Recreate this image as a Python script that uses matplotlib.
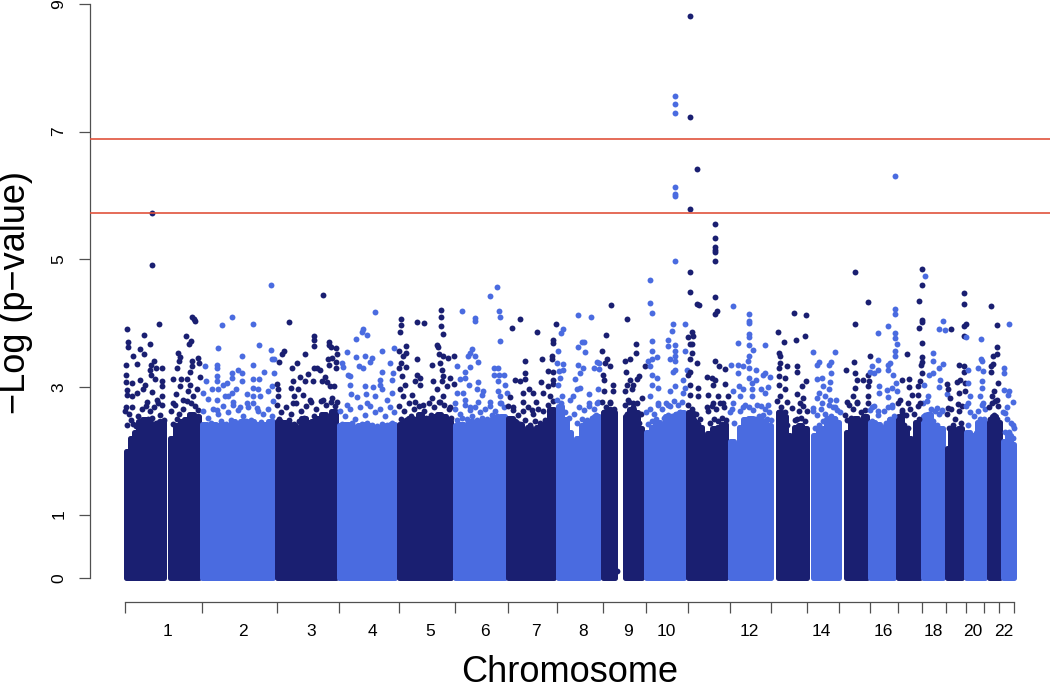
import matplotlib
matplotlib.use('Agg')
import matplotlib.pyplot as plt

plt.rcParams['font.family'] = ['Liberation Sans', 'DejaVu Sans']

DARK = '#1a1f71'
BLUE = '#4a6be0'
RED = '#e0533c'
AXIS = '#505050'

# cumulative genome position is kept in plot units
boundaries = [125, 202, 277, 339, 399, 455, 508, 557, 603, 646, 688, 730, 771,
              807, 839, 870, 898, 922, 946, 966, 984, 999, 1014]
label_pos = [167, 243, 311, 372, 430, 485, 536, 583, 628, 666, 749, 821, 883, 933, 973, 1004]
label_txt = ['1', '2', '3', '4', '5', '6', '7', '8', '9', '10', '12', '14', '16', '18', '20', '22']
y_ticks = [0, 1, 3, 5, 7, 9]
thresholds = [6.89, 5.725]

# solid part of each chromosome: start, end, colour index, top of the dense cloud
arm_start = [123, 167.7, 199.7, 274, 336.7, 396, 452, 505.7, 555, 600, 622.3, 643.3, 685.3,
             727.3, 775, 810.7, 843.3, 867.7, 895.3, 920.7, 944, 963.3, 986, 1000.7]
arm_end = [166, 199.7, 274, 336.7, 396, 452, 505.7, 555, 600, 617.3, 643.3, 685.3, 727.3,
           773.3, 809, 841.7, 867.7, 895.3, 920.7, 944, 963.3, 986, 1000.7, 1016.7]
arm_col = [0, 0, 1, 0, 1, 0, 1, 0, 1, 0, 0, 1, 0, 1, 0, 1, 0, 1, 0, 1, 0, 1, 0, 1]
arm_tops = [
    [2.0, 2.2, 2.3, 2.47, 2.5, 2.45, 2.4, 2.42, 2.47],
    [2.2, 2.4, 2.47, 2.5, 2.57, 2.55],
    [2.42, 2.35, 2.42, 2.4, 2.42, 2.35, 2.47, 2.4, 2.47, 2.4, 2.47, 2.42, 2.35, 2.42, 2.47],
    [2.47, 2.45, 2.42, 2.4, 2.35, 2.52, 2.45, 2.47, 2.52, 2.57, 2.55, 2.62],
    [2.4, 2.42, 2.35, 2.37, 2.4, 2.42, 2.4, 2.37, 2.35, 2.37, 2.4, 2.42],
    [2.42, 2.45, 2.52, 2.45, 2.57, 2.45, 2.52, 2.55, 2.57, 2.55, 2.47],
    [2.4, 2.42, 2.35, 2.47, 2.45, 2.47, 2.45, 2.47, 2.5, 2.52, 2.55],
    [2.52, 2.45, 2.42, 2.3, 2.37, 2.3, 2.37, 2.4, 2.47, 2.65],
    [2.7, 2.5, 2.3, 2.12, 2.2, 2.4, 2.45, 2.47, 2.55],
    [2.6, 2.65, 2.6],
    [2.55, 2.65, 2.6, 2.35],
    [2.3, 2.37, 2.45, 2.42, 2.55, 2.5, 2.57, 2.6],
    [2.6, 2.45, 2.37, 2.02, 2.27, 2.35, 2.37, 2.42],
    [2.15, 2.05, 2.37, 2.5, 2.52, 2.45, 2.5, 2.47, 2.4],
    [2.6, 2.55, 2.25, 2.15, 2.37, 2.4, 2.35],
    [2.25, 2.32, 2.35, 2.5, 2.52, 2.45],
    [2.3, 2.5, 2.52, 2.2, 2.55],
    [2.45, 2.42, 2.2, 2.4, 2.5],
    [2.55, 2.35, 2.2, 2.15, 2.45],
    [2.55, 2.57, 2.4, 2.25, 2.35],
    [2.05, 2.35, 1.95, 2.35],
    [2.3, 2.05, 2.25, 2.45, 2.47],
    [2.45, 2.55, 2.45],
    [2.15, 2.25, 2.1],
]

# separate points above the dense cloud, one x and one y list per chromosome
chr1_x = [151.7, 151.7, 159, 127.3, 144, 128, 128, 150.3, 140, 144, 133, 136.7, 126.3, 154, 150.7, 156, 162.3,
          150.3, 150.7, 155, 126.3, 126, 132.3, 140, 144.7, 162, 162, 142.7, 127.3, 136.7, 152, 127.3, 131.7,
          161.7, 156.7, 126, 131.7, 146.7, 191.7, 194, 195.3, 186, 191.3, 189, 178, 180, 179.3, 197.7, 191.7,
          199.3, 176.7, 191.7, 190, 200, 173, 180.7, 186.7, 180, 190, 176, 188.3, 196.7, 183.3, 193.3, 173.3]
chr1_y = [5.73, 4.91, 3.98, 3.90, 3.82, 3.70, 3.62, 3.67, 3.59, 3.52, 3.49, 3.36, 3.34, 3.40, 3.34, 3.30, 3.30,
          3.27, 3.18, 3.13, 3.18, 3.07, 3.06, 3.11, 3.03, 3.09, 3.01, 2.96, 2.95, 2.91, 2.92, 2.87, 2.85,
          2.85, 2.80, 2.68, 2.69, 2.77, 4.10, 4.06, 4.03, 3.80, 3.72, 3.67, 3.53, 3.47, 3.41, 3.46, 3.41,
          3.38, 3.30, 3.32, 3.24, 3.15, 3.12, 3.12, 3.13, 3.01, 3.03, 2.89, 2.93, 2.96, 2.80, 2.85, 2.75]
chr2_x = [271.3, 232, 222, 252.7, 217.7, 259, 241.7, 271.3, 272, 274.3, 204.7, 217.3, 217.3, 252.7, 238.3, 241.7,
          264.3, 273.7, 232, 231.7, 205.7, 217.3, 216.7, 227.3, 223, 241.7, 253.3, 259, 211.7, 218.3, 236, 231.7,
          253.3, 258.3, 271.7, 268.3, 202.7, 208, 216.7, 225, 228.3, 246.7, 253.3, 273.3, 260, 233.3, 246.7,
          216.7, 240, 256.7]
chr2_y = [4.59, 4.10, 3.97, 3.98, 3.61, 3.66, 3.49, 3.58, 3.44, 3.44, 3.33, 3.34, 3.30, 3.34, 3.27, 3.22,
          3.24, 3.22, 3.22, 3.14, 3.10, 3.17, 3.09, 3.06, 3.03, 3.10, 3.12, 3.13, 2.97, 2.96, 2.97, 2.91,
          2.98, 2.96, 3.02, 2.93, 2.90, 2.81, 2.80, 2.85, 2.86, 2.89, 2.85, 2.78, 2.85, 2.76, 2.74,
          2.64, 2.69, 2.67]
chr3_x = [323.3, 289.3, 314, 314, 314, 328.7, 328.7, 330.7, 336, 305, 337.3, 284, 281.7, 279.3, 297.3, 291.7,
          327.7, 332, 328.7, 336, 336, 314, 317.3, 320, 300, 308.3, 305, 312.7, 321.7, 325, 327.3, 334, 330,
          277.3, 277.7, 278.3, 293.3, 290.7, 298.3, 294, 303.3, 310, 323.3, 331.7, 336.7, 293.3]
chr3_y = [4.44, 4.01, 3.80, 3.74, 3.64, 3.71, 3.66, 3.63, 3.61, 3.51, 3.52, 3.57, 3.52, 3.39, 3.37, 3.30,
          3.43, 3.45, 3.34, 3.39, 3.29, 3.30, 3.30, 3.26, 3.15, 3.20, 3.10, 3.10, 3.10, 3.16, 3.07, 3.01, 3.01,
          3.05, 2.97, 2.85, 3.09, 2.98, 2.96, 2.85, 2.88, 2.80, 2.80, 2.83, 2.77, 2.75]
chr4_x = [375.3, 362.7, 362.3, 367.3, 356, 347.3, 365, 356, 371.7, 381.7, 394, 370, 390, 341.7, 343.3, 359.3,
          363.3, 381.7, 393.3, 348.3, 350, 380, 380, 391.7, 350, 365, 372.7, 350.7, 356.7, 366, 391.7, 375,
          381.7, 346.7, 366.7, 386.7]
chr4_y = [4.17, 3.91, 3.86, 3.82, 3.75, 3.55, 3.49, 3.47, 3.46, 3.56, 3.61, 3.39, 3.38, 3.37, 3.31, 3.33,
          3.29, 3.24, 3.22, 3.19, 3.17, 3.11, 3.03, 3.11, 3.03, 3.01, 3.00, 2.89, 2.84, 2.89, 2.91, 2.85,
          2.96, 2.72, 2.75, 2.80]
chr5_x = [400.7, 401, 399.7, 405.7, 399, 405.7, 402.7, 401, 405.7, 399.3, 401.7, 405, 400, 403.3,
          417.3, 423.7, 441.3, 441.3, 441.3, 442.7, 437.3, 438.3, 417.3, 439.3, 443.3, 448.3, 454, 431.7, 440,
          441.7, 443.3, 450, 417.3, 420, 415, 420, 433.3, 441.7, 447.3, 454.3, 411.7, 436.7, 431.7, 443.3,
          415, 423.3, 440, 450]
chr5_y = [4.07, 3.97, 3.86, 3.64, 3.56, 3.53, 3.49, 3.37, 3.31, 3.30, 3.17, 3.03, 2.96, 2.85,
          4.01, 4.00, 4.20, 4.10, 3.95, 3.83, 3.66, 3.63, 3.43, 3.51, 3.48, 3.45, 3.48, 3.35, 3.38,
          3.27, 3.17, 3.14, 3.19, 3.14, 3.09, 3.03, 3.09, 3.09, 3.02, 3.04, 2.88, 2.96, 2.83, 2.85,
          2.76, 2.71, 2.77, 2.69]
chr6_x = [497, 490.3, 462, 498.7, 475, 475, 500.3, 500.3, 472.3, 470, 468.3, 475, 477.7, 456.7, 470, 465, 494,
          498, 494, 499.3, 504, 460, 465, 477.7, 469.3, 498.3, 505, 476.7, 457.3, 483.3, 463.3, 498.3, 506.7,
          481.7, 500, 465, 478.3, 490, 455, 500.7, 470]
chr6_y = [4.57, 4.43, 4.19, 4.19, 4.08, 4.03, 4.10, 3.72, 3.59, 3.53, 3.48, 3.48, 3.39, 3.32, 3.31, 3.23, 3.29,
          3.29, 3.19, 3.19, 3.18, 3.12, 3.14, 3.07, 3.03, 3.09, 3.03, 2.97, 2.90, 2.93, 2.90, 2.93, 2.91,
          2.88, 2.85, 2.80, 2.76, 2.77, 2.75, 2.75, 2.68]
chr7_x = [519.7, 512, 536.7, 555.7, 553.3, 553.3, 542, 552.3, 552.3, 524.7, 548.3, 552.7, 524.7, 515, 525, 520,
          541, 553.3, 553.3, 547.7, 529.3, 533.3, 543.3, 522.7, 510, 536, 523.3, 550, 513.3, 531.7]
chr7_y = [4.07, 3.93, 3.86, 3.98, 3.74, 3.68, 3.44, 3.48, 3.43, 3.40, 3.25, 3.23, 3.22, 3.11, 3.12, 3.09,
          3.08, 3.11, 3.05, 3.02, 2.97, 2.90, 2.90, 2.90, 2.84, 2.77, 2.77, 2.85, 2.69, 2.64]
chr8_x = [578.3, 590.7, 563, 561.3, 581.7, 584.3, 578.3, 558.3, 585, 557.3, 563.3, 596.7, 599.3, 578.3, 583.3,
          563.3, 559.3, 580, 594.3, 599, 560, 575, 558.3, 580, 576.7, 589.3, 598.3, 573.3, 589.3, 596.7, 561.7, 570]
chr8_y = [4.12, 4.09, 3.91, 3.84, 3.70, 3.70, 3.62, 3.57, 3.55, 3.38, 3.36, 3.39, 3.37, 3.34, 3.29,
          3.27, 3.25, 3.22, 3.29, 3.28, 3.14, 3.13, 3.03, 2.98, 2.96, 2.89, 2.96, 2.85, 2.75, 2.75, 2.85, 2.79]
chr9_x = [611, 626.7, 606.3, 602.3, 636.3, 636.3, 606.7, 605, 610, 625, 630.3, 645.3, 626.3, 603.3, 604, 630,
          636.7, 639.3, 613.3, 626.7, 633.3, 604, 613.3, 625, 631.7, 641.7, 610, 628.3, 633.3, 617.3]
chr9_y = [4.28, 4.06, 3.81, 3.57, 3.67, 3.53, 3.44, 3.37, 3.32, 3.40, 3.43, 3.33, 3.23, 3.19, 3.11, 3.11,
          3.13, 3.17, 3.03, 3.03, 3.03, 2.93, 2.94, 2.94, 2.96, 2.83, 2.77, 2.80, 2.75, 0.12]
chr10_x = [675, 675, 675, 675, 675, 675, 675, 649.7, 650, 652.3, 672.7, 685, 672.3, 667.7, 652, 675, 668.3, 685,
           652, 675, 656.7, 651.7, 675, 670, 675, 648.3, 650, 675, 672.7, 686.7, 651.7, 656.7, 683.3, 651.7,
           658.3, 675, 685, 670, 683.3, 650, 658.3, 668.3]
chr10_y = [7.56, 7.44, 7.29, 6.14, 6.03, 5.99, 4.98, 4.68, 4.31, 4.16, 3.99, 3.99, 3.87, 3.74, 3.72, 3.66, 3.64, 3.57,
           3.57, 3.56, 3.47, 3.44, 3.48, 3.43, 3.40, 3.40, 3.32, 3.27, 3.23, 3.26, 3.19, 3.14, 3.11, 3.03,
           2.98, 3.01, 2.98, 2.93, 2.90, 2.85, 2.75, 2.72]
chr11_x = [689.7, 689.7, 697.3, 689.7, 714.7, 714.7, 714.7, 714.7, 714.7, 714.7, 689.7, 689.7, 714.7, 697.3, 699.3,
           714.7, 717.3, 692.3, 688.3, 693.3, 690, 692.3, 692.3, 690, 697.3, 714.7, 719, 690, 688.3, 706.7,
           711.7, 715, 690, 698.3, 713.3, 708.3, 690, 698.3, 713.3, 718.3, 706.7, 725, 725, 728.3, 723.3]
chr11_y = [8.82, 7.23, 6.41, 5.79, 5.56, 5.33, 5.19, 5.15, 5.12, 4.97, 4.80, 4.49, 4.41, 4.30, 4.29,
           4.14, 4.19, 3.86, 3.78, 3.79, 3.67, 3.67, 3.53, 3.43, 3.37, 3.40, 3.32, 3.24, 3.19, 3.15,
           3.14, 3.11, 3.03, 2.98, 3.03, 2.88, 2.88, 2.85, 2.75, 2.85, 2.69, 3.28, 3.05, 2.85, 2.75]
chr12_x = [732.7, 749, 749, 749, 749, 749, 737.7, 765, 749, 752.7, 749, 747.7, 730.7, 737.7, 742.7, 737.7, 749,
           755.7, 765, 762.7, 770.3, 749, 751.7, 756, 739.3, 743.3, 760.7, 768.3, 732.7, 751.7, 740, 751.7,
           765, 733.3, 742.7, 768.3]
chr12_y = [4.26, 4.14, 4.04, 4.00, 3.83, 3.78, 3.69, 3.66, 3.65, 3.58, 3.48, 3.41, 3.34, 3.35, 3.33, 3.21, 3.29,
           3.27, 3.22, 3.18, 3.15, 3.14, 3.06, 3.11, 3.02, 2.97, 2.97, 3.00, 2.93, 2.96, 2.85, 2.85,
           2.90, 2.75, 2.69, 2.72]
chr13_x = [794, 806.3, 778.3, 784, 796.3, 804.7, 779.3, 780.3, 780, 786.7, 779.3, 796.7, 796.7, 785, 779.3, 779.3,
           806, 801.7, 796.7, 785, 780, 802.7, 786.7, 791.7, 800]
chr13_y = [4.16, 4.12, 3.86, 3.71, 3.74, 3.79, 3.53, 3.48, 3.37, 3.32, 3.30, 3.32, 3.23, 3.14, 3.17, 3.03,
           3.10, 3.01, 2.89, 2.96, 2.85, 2.83, 2.76, 2.67, 2.75]
chr14_x = [813.3, 834.7, 818.7, 831, 817.3, 829.3, 831.3, 816.7, 822.3, 830, 822.7, 829.3, 819.3, 816.7, 825, 830,
           836, 813.3, 835, 821.7]
chr14_y = [3.55, 3.55, 3.39, 3.39, 3.34, 3.34, 3.21, 3.13, 3.14, 3.07, 3.02, 2.96, 2.91, 2.83, 2.85, 2.80,
           2.79, 2.67, 2.69, 2.75]
chr15_x = [854.7, 868.3, 854.7, 869.7, 853.7, 846.3, 854.7, 868.3, 856.7, 863.3, 869, 868.3, 855, 853.3, 846.7,
           856.7, 868.3, 868.3]
chr15_y = [4.80, 4.33, 3.98, 3.49, 3.39, 3.27, 3.22, 3.19, 3.11, 3.11, 3.09, 3.01, 2.98, 2.85, 2.77,
           2.77, 2.85, 2.75]
chr16_x = [895, 895.3, 895.3, 887.7, 878.3, 895.3, 895.3, 897, 895.3, 895.3, 878, 890, 872, 887.7, 870, 878, 874.3,
           887.7, 893.3, 879, 895.7, 891.7, 886.7, 879, 888.3, 896.7, 871.7, 878.3, 891.7]
chr16_y = [6.30, 4.22, 4.15, 3.96, 3.85, 3.85, 3.76, 3.67, 3.57, 3.49, 3.42, 3.38, 3.32, 3.34, 3.24, 3.27, 3.22,
           3.26, 3.18, 3.01, 3.06, 2.98, 2.95, 2.91, 2.84, 2.93, 2.69, 2.62, 2.69]
chr17_x = [921.7, 921.7, 919.3, 921.7, 921.7, 918.7, 921.7, 921.7, 907, 921.7, 921, 921.7, 901.7, 908.7, 920, 909,
           918.3, 912.3, 918.3, 900, 908.3, 920, 901.7]
chr17_y = [4.85, 4.59, 4.35, 4.05, 4.02, 3.92, 3.68, 3.47, 3.51, 3.39, 3.34, 3.22, 3.11, 3.13, 3.10, 3.00,
           3.01, 2.88, 2.87, 2.80, 2.75, 2.75, 2.64]
chr18_x = [925, 943.3, 939.3, 944.7, 932.7, 932.7, 943.3, 939.3, 933.3, 929.3, 924, 940, 939.3, 928.3, 946.7,
           936.7, 941.7]
chr18_y = [4.73, 4.04, 3.91, 3.89, 3.53, 3.40, 3.36, 3.30, 3.21, 3.18, 3.03, 3.11, 3.00, 2.85, 2.89,
           2.67, 2.62]
chr19_x = [950.7, 964.3, 964.3, 966, 964.3, 964.3, 958.7, 964.3, 964.3, 960, 956.7, 965, 946.7, 948.3, 950, 965,
           959, 958.3, 948.3]
chr19_y = [3.91, 4.47, 4.30, 3.99, 3.96, 3.80, 3.34, 3.32, 3.24, 3.11, 3.07, 3.06, 3.04, 2.96, 2.83, 2.93,
           2.90, 2.73, 2.67]
chr20_x = [966.3, 981, 980.7, 981.7, 977.7, 983.3, 968.3, 981.7, 968.3, 981.7, 970, 980, 983.3, 968.3]
chr20_y = [3.78, 3.75, 3.44, 3.41, 3.30, 3.25, 3.27, 3.09, 3.06, 2.98, 2.85, 2.85, 2.75, 2.75]
chr21_x = [991, 997.3, 997.3, 993.3, 997.3, 993.3, 990.7, 990.7, 998, 994, 991.7, 996.7]
chr21_y = [4.27, 3.97, 3.62, 3.49, 3.52, 3.36, 3.32, 3.24, 3.06, 2.93, 2.85, 2.80]
chr22_x = [1009, 1004, 1004, 1004.3, 1009, 1013.3, 1008.3, 1006.7, 1013.3, 1005]
chr22_y = [3.99, 3.29, 3.22, 2.95, 2.94, 2.76, 2.88, 2.69, 2.41, 2.59]

# points on the rim of the dense cloud, estimated by eye per chromosome
band_x = [
    [125, 129, 133, 138, 142, 146, 150, 154, 158, 162, 127, 131, 136, 140, 148, 152, 156, 160, 164,
     171, 175, 179, 183, 187, 191, 195, 198, 173, 177, 181, 185, 189, 193, 197],
    [203, 208, 213, 218, 223, 228, 233, 238, 243, 248, 253, 258, 263, 268, 272,
     205, 211, 216, 221, 226, 231, 236, 241, 246, 251, 256, 261, 266, 270],
    [277, 281, 286, 291, 296, 301, 306, 311, 316, 321, 326, 331, 335,
     279, 284, 289, 294, 299, 304, 309, 314, 319, 324, 329, 333],
    [340, 345, 350, 355, 360, 365, 370, 375, 380, 385, 390, 394,
     342, 347, 352, 357, 362, 367, 372, 377, 382, 387, 392],
    [399, 404, 409, 414, 419, 424, 429, 434, 439, 444, 449,
     401, 406, 411, 416, 421, 426, 431, 436, 441, 446, 451],
    [455, 460, 465, 470, 475, 480, 485, 490, 495, 500, 504,
     457, 462, 467, 472, 477, 482, 487, 492, 497, 502],
    [508, 513, 518, 523, 528, 533, 538, 543, 548, 553,
     510, 515, 520, 525, 530, 535, 540, 545, 550],
    [557, 561, 565, 569, 574, 579, 584, 589, 594, 598,
     559, 563, 577, 582, 587, 592, 596],
    [602, 606, 610, 614, 625, 629, 633, 637, 641,
     604, 608, 612, 627, 631, 635, 639],
    [646, 650, 654, 658, 662, 666, 670, 674, 678, 682,
     648, 652, 656, 660, 664, 668, 672, 676, 680],
    [688, 692, 696, 700, 708, 712, 716, 720, 724,
     690, 694, 698, 710, 714, 718, 722, 726],
    [730, 734, 740, 745, 749, 753, 757, 761, 765, 769,
     732, 747, 751, 755, 759, 763, 767, 771],
    [777, 781, 785, 795, 799, 803, 807,
     779, 783, 787, 797, 801, 805],
    [813, 817, 821, 825, 829, 833, 837, 840,
     815, 819, 823, 827, 831, 835],
    [845, 849, 853, 857, 861, 865,
     847, 851, 855, 859, 863],
    [870, 874, 878, 884, 888, 892,
     872, 876, 886, 890, 894],
    [898, 902, 906, 910, 914, 918,
     900, 904, 908, 916, 919],
    [923, 927, 931, 935, 939, 942,
     925, 929, 933, 937],
    [947, 951, 955, 959, 962,
     949, 953, 957, 961],
    [966, 970, 974, 978, 982, 985,
     968, 976, 980, 984],
    [989, 992, 995, 998,
     990, 994, 997],
    [1003, 1007, 1011, 1014,
     1005, 1009, 1013],
]
band_y = [
    [2.62, 2.58, 2.42, 2.55, 2.66, 2.70, 2.62, 2.68, 2.74, 2.72, 2.40, 2.48, 2.38, 2.45, 2.50, 2.52, 2.44, 2.56, 2.48,
     2.62, 2.72, 2.58, 2.66, 2.78, 2.74, 2.70, 2.64, 2.42, 2.50, 2.44, 2.46, 2.52, 2.55, 2.48],
    [2.62, 2.52, 2.66, 2.58, 2.70, 2.60, 2.72, 2.64, 2.55, 2.68, 2.75, 2.62, 2.58, 2.66, 2.55,
     2.40, 2.44, 2.38, 2.46, 2.42, 2.48, 2.44, 2.40, 2.46, 2.48, 2.42, 2.45, 2.40, 2.44],
    [2.72, 2.60, 2.68, 2.58, 2.74, 2.62, 2.70, 2.76, 2.66, 2.78, 2.72, 2.76, 2.70,
     2.50, 2.44, 2.48, 2.42, 2.46, 2.52, 2.44, 2.54, 2.50, 2.56, 2.52, 2.58],
    [2.62, 2.55, 2.66, 2.50, 2.68, 2.56, 2.70, 2.60, 2.66, 2.54, 2.68, 2.60,
     2.42, 2.40, 2.44, 2.38, 2.42, 2.44, 2.40, 2.38, 2.42, 2.40, 2.44],
    [2.70, 2.62, 2.74, 2.66, 2.70, 2.62, 2.74, 2.68, 2.76, 2.72, 2.66,
     2.50, 2.48, 2.54, 2.50, 2.46, 2.52, 2.56, 2.50, 2.54, 2.48, 2.52],
    [2.66, 2.58, 2.72, 2.64, 2.68, 2.60, 2.66, 2.70, 2.62, 2.74, 2.68,
     2.48, 2.52, 2.50, 2.54, 2.48, 2.52, 2.50, 2.56, 2.54, 2.50],
    [2.70, 2.64, 2.56, 2.62, 2.68, 2.58, 2.66, 2.62, 2.72, 2.78,
     2.50, 2.46, 2.42, 2.48, 2.40, 2.46, 2.44, 2.48, 2.52],
    [2.80, 2.74, 2.60, 2.52, 2.58, 2.68, 2.64, 2.70, 2.66, 2.76,
     2.62, 2.46, 2.44, 2.50, 2.48, 2.52, 2.56],
    [2.76, 2.68, 2.74, 2.66, 2.72, 2.76, 2.68, 2.74, 2.58,
     2.60, 2.56, 2.58, 2.58, 2.62, 2.60, 2.44],
    [2.60, 2.66, 2.58, 2.72, 2.66, 2.74, 2.70, 2.78, 2.72, 2.76,
     2.42, 2.46, 2.50, 2.44, 2.52, 2.56, 2.54, 2.58, 2.60],
    [2.72, 2.66, 2.58, 2.50, 2.62, 2.70, 2.66, 2.74, 2.68,
     2.58, 2.48, 2.42, 2.44, 2.50, 2.46, 2.52, 2.48],
    [2.60, 2.44, 2.62, 2.72, 2.68, 2.64, 2.72, 2.70, 2.66, 2.60, 2.66,
     2.40, 2.36, 2.50, 2.54, 2.56, 2.50, 2.48],
    [2.78, 2.68, 2.60, 2.48, 2.62, 2.70, 2.62,
     2.60, 2.56, 2.40, 2.50, 2.52, 2.46],
    [2.62, 2.56, 2.66, 2.58, 2.72, 2.68, 2.64, 2.60,
     2.36, 2.40, 2.46, 2.52, 2.54, 2.50],
    [2.56, 2.72, 2.66, 2.74, 2.60, 2.64,
     2.48, 2.52, 2.50, 2.46, 2.48],
    [2.64, 2.70, 2.56, 2.62, 2.68, 2.72,
     2.46, 2.42, 2.44, 2.50, 2.54],
    [2.74, 2.60, 2.56, 2.66, 2.58, 2.70,
     2.50, 2.40, 2.36, 2.34, 2.50],
    [2.74, 2.78, 2.66, 2.62, 2.58, 2.64,
     2.56, 2.58, 2.46, 2.40],
    [2.58, 2.66, 2.50, 2.62, 2.70,
     2.36, 2.40, 2.30, 2.44],
    [2.70, 2.60, 2.54, 2.62, 2.72, 2.66,
     2.40, 2.28, 2.50, 2.50],
    [2.68, 2.74, 2.78, 2.70,
     2.50, 2.56, 2.50],
    [2.60, 2.50, 2.44, 2.36,
     2.30, 2.30, 2.20],
]

chrom_x = [chr1_x, chr2_x, chr3_x, chr4_x, chr5_x, chr6_x, chr7_x, chr8_x, chr9_x, chr10_x, chr11_x,
           chr12_x, chr13_x, chr14_x, chr15_x, chr16_x, chr17_x, chr18_x, chr19_x, chr20_x, chr21_x, chr22_x]
chrom_y = [chr1_y, chr2_y, chr3_y, chr4_y, chr5_y, chr6_y, chr7_y, chr8_y, chr9_y, chr10_y, chr11_y,
           chr12_y, chr13_y, chr14_y, chr15_y, chr16_y, chr17_y, chr18_y, chr19_y, chr20_y, chr21_y, chr22_y]

fig = plt.figure(figsize=(10.5, 6.86), dpi=100)
ax = fig.add_axes([90 / 1050, 1 - 590 / 686, 960 / 1050, 590 / 686])
ax.set_xlim(90, 1050)
ax.set_ylim(-0.183, 9.063)

colors = [DARK, BLUE]
INSET = 2.5  # half a dot, the dots stick out of the cloud

# dense cloud, neighbours overlap a little so no seam shows
for k, (start, end, col, tops) in enumerate(zip(arm_start, arm_end, arm_col, arm_tops)):
    touches_next = k + 1 < len(arm_start) and arm_start[k + 1] == end
    right = end - (1.0 if touches_next else INSET)
    w = (right - start - INSET) / len(tops)
    xs = [start + INSET + w * (i + 0.5) for i in range(len(tops))]
    ax.bar(xs, tops, width=w, color=colors[col], edgecolor=colors[col], linewidth=3.6,
           joinstyle='round', zorder=2)

# loose points
for i in range(22):
    col = colors[i % 2]
    ax.scatter(band_x[i], band_y[i], s=18, color=col, linewidths=0, zorder=2.5 + i * 0.01)
    ax.scatter(chrom_x[i], chrom_y[i], s=18, color=col, linewidths=0, zorder=3, clip_on=False)

for th in thresholds:
    ax.axhline(th, color=RED, linewidth=1.2, zorder=4)

for side in ['top', 'right']:
    ax.spines[side].set_visible(False)
ax.spines['left'].set_bounds(0, 9)
ax.spines['bottom'].set_position(('outward', 8.3))
ax.spines['bottom'].set_bounds(boundaries[0], boundaries[-1])
for side in ['left', 'bottom']:
    ax.spines[side].set_color(AXIS)
    ax.spines[side].set_linewidth(0.9)

ax.set_yticks(y_ticks)
ax.set_yticklabels([str(t) for t in y_ticks], rotation=90, va='center', fontsize=12.5)
ax.tick_params(axis='y', length=8, width=0.9, color=AXIS, pad=9)

ax.set_xticks(boundaries)
ax.set_xticklabels([])
ax.set_xticks(label_pos, minor=True)
ax.set_xticklabels(label_txt, minor=True, fontsize=12.5)
ax.tick_params(axis='x', which='major', length=8, width=0.9, color=AXIS)
ax.tick_params(axis='x', which='minor', length=0, pad=16)

ax.set_xlabel('Chromosome', fontsize=26)
ax.xaxis.set_label_coords(0.5, -(682 - 590) / 590, transform=ax.transAxes)
ax.xaxis.label.set_va('baseline')
ax.set_ylabel('\u2212Log (p\u2212value)', fontsize=26)
ax.yaxis.set_label_coords(-(90 - 16) / 960, (590 - 292) / 590, transform=ax.transAxes)
ax.yaxis.label.set_va('center')

fig.savefig('out.png', dpi=100)
